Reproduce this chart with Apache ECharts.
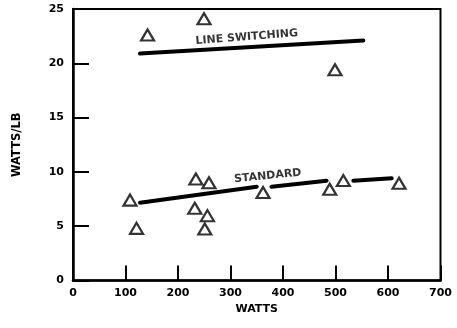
<!DOCTYPE html>
<html>
<head>
<meta charset="utf-8">
<script src="https://cdn.jsdelivr.net/npm/echarts@6/dist/echarts.min.js"></script>
<style>
html,body{margin:0;padding:0;background:#fff;}
#c{width:457px;height:328px;}
</style>
</head>
<body>
<div id="c"></div>
<script>
// Line switching measurements
const lsWatts = [142, 249.5, 499];
const lsWattsPerLb = [22.6, 24.1, 19.4];
// Standard measurements
const stdWatts = [108.6, 121, 234, 259, 232, 256, 251, 362, 489, 515, 621];
const stdWattsPerLb = [7.4, 4.8, 9.35, 9.0, 6.65, 5.97, 4.74, 8.1, 8.4, 9.2, 8.95];
// Hand-drawn trend lines
const lsFitWatts = [127.6, 553];
const lsFitValues = [20.9, 22.1];
const stdFitSeg1Watts = [127.6, 350];
const stdFitSeg1Values = [7.16, 8.64];
const stdFitSeg2Watts = [378, 483];
const stdFitSeg2Values = [8.64, 9.19];
const stdFitSeg3Watts = [534, 607];
const stdFitSeg3Values = [9.19, 9.41];
// Curve labels
const curveLabels = ['LINE SWITCHING', 'STANDARD'];
const curveLabelWatts = [331, 371];
const curveLabelValues = [22.4, 9.62];
const curveLabelRotate = [4.5, 5.7];
// Axes
const xTickValues = [0, 100, 200, 300, 400, 500, 600, 700];
const yTickValues = [0, 5, 10, 15, 20, 25];

const zip = (a, b) => a.map((v, i) => [v, b[i]]);
const FONT = 'DejaVu Sans';
const tri = {
  type: 'scatter', symbol: 'triangle', symbolSize: [13, 11],
  itemStyle: { color: '#fff', borderColor: '#000', borderWidth: 2.2 },
  z: 5
};
const fit = (xs, ys) => ({
  type: 'line', data: zip(xs, ys), symbol: 'none',
  lineStyle: { color: '#000', width: 4, cap: 'round' }, z: 4
});

const chart = echarts.init(document.getElementById('c'), null, { renderer: 'canvas' });
chart.setOption({
  animation: false,
  backgroundColor: '#fff',
  grid: { left: 73, right: 16.5, top: 9, bottom: 47.5, show: true, borderColor: '#000', borderWidth: 2 },
  xAxis: {
    type: 'value', min: xTickValues[0], max: xTickValues[xTickValues.length - 1], interval: 100,
    name: 'WATTS', nameLocation: 'middle', nameGap: 16,
    nameTextStyle: { fontFamily: FONT, fontWeight: 'bold', fontSize: 11, color: '#000' },
    axisLine: { lineStyle: { color: '#000', width: 2.5 } },
    axisTick: { inside: true, length: 15, lineStyle: { color: '#000', width: 2 } },
    axisLabel: { fontFamily: FONT, fontWeight: 'bold', fontSize: 11, color: '#000', margin: 7 },
    splitLine: { show: false }
  },
  yAxis: {
    type: 'value', min: yTickValues[0], max: yTickValues[yTickValues.length - 1], interval: 5,
    name: 'WATTS/LB', nameLocation: 'middle', nameGap: 50, nameRotate: 90,
    nameTextStyle: { fontFamily: FONT, fontWeight: 'bold', fontSize: 11.5, color: '#000' },
    axisLine: { lineStyle: { color: '#000', width: 2.5 } },
    axisTick: { inside: true, length: 16, lineStyle: { color: '#000', width: 2 } },
    axisLabel: { fontFamily: FONT, fontWeight: 'bold', fontSize: 11, color: '#000', margin: 9 },
    splitLine: { show: false }
  },
  series: [
    fit(lsFitWatts, lsFitValues),
    fit(stdFitSeg1Watts, stdFitSeg1Values),
    fit(stdFitSeg2Watts, stdFitSeg2Values),
    fit(stdFitSeg3Watts, stdFitSeg3Values),
    Object.assign({}, tri, { data: zip(lsWatts, lsWattsPerLb) }),
    Object.assign({}, tri, { data: zip(stdWatts, stdWattsPerLb) }),
    {
      type: 'scatter', symbolSize: 0, z: 6,
      data: curveLabels.map((t, i) => ({
        value: [curveLabelWatts[i], curveLabelValues[i]],
        label: {
          show: true, position: 'inside', formatter: t, rotate: curveLabelRotate[i],
          fontFamily: FONT, fontWeight: 'bold', fontSize: 11, color: '#000'
        }
      }))
    }
  ]
});
</script>
</body>
</html>
